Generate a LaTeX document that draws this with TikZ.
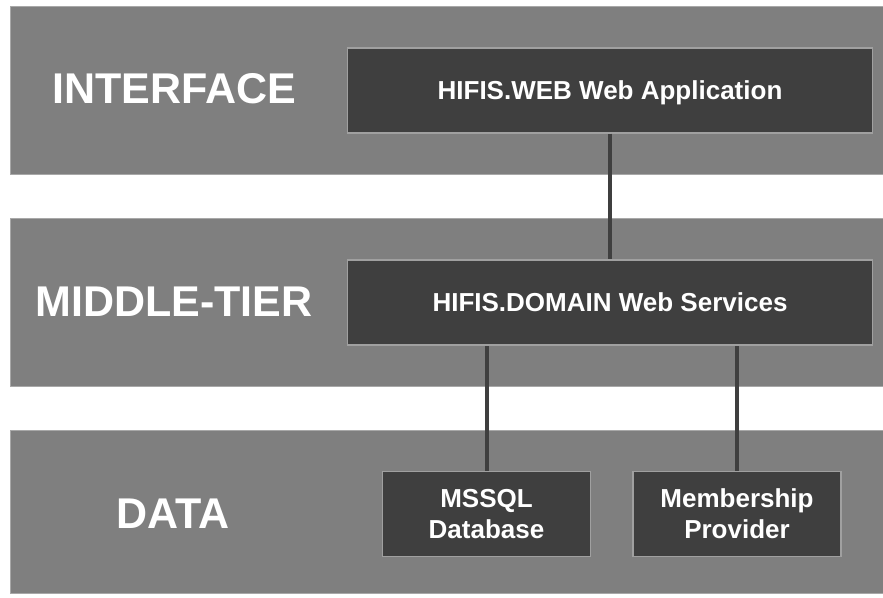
\documentclass[tikz,border=0pt]{standalone}
\usepackage{fontspec}
\setmainfont{Liberation Sans}
\definecolor{bandgray}{HTML}{7F7F7F}
\definecolor{bandedge}{HTML}{A8A8A8}
\definecolor{boxgray}{HTML}{3F3F3F}
\definecolor{boxedge}{HTML}{A0A0A0}
\begin{document}
\begin{tikzpicture}[x=1pt,y=-1pt,
  band/.style={fill=bandgray, draw=bandedge, line width=1pt},
  boxbase/.style={draw=boxedge, fill=boxgray, line width=1.2pt, text=white,
    font=\bfseries\fontsize{26}{31}\selectfont, inner sep=0pt, align=center},
  box/.style={boxbase, text height=18.6pt, text depth=0pt},
  tier/.style={text=white, font=\bfseries\fontsize{43}{50}\selectfont,
    inner sep=0pt, text height=30.8pt, text depth=0pt},
  link/.style={draw=boxgray, line width=4pt}]
\useasboundingbox (0,0) rectangle (883,597);
\fill[white] (0,0) rectangle (883,597);
% bands
\path[band] (10,6) rectangle (886,174);
\path[band] (10,218) rectangle (886,386);
\path[band] (10,430) rectangle (886,593);
% tier labels
\node[tier] (tinterface) at (174,88) {INTERFACE};
\node[tier] (tmiddle) at (174,301) {MIDDLE-TIER};
\node[tier] (tdata) at (173,513) {DATA};
% boxes
\node[box, minimum width=525pt, minimum height=85pt] (web) at (610,90.5) {HIFIS.WEB Web Application};
\node[box, minimum width=525pt, minimum height=85pt] (svc) at (610,302.5) {HIFIS.DOMAIN Web Services};
\node[boxbase, minimum width=208pt, minimum height=85pt] (db) at (486.5,514) {MSSQL\\Database};
\node[boxbase, minimum width=208pt, minimum height=85pt] (mem) at (737,514) {Membership\\Provider};
% connectors
\draw[link] (web.south) -- (svc.north);
\draw[link] (db.north) -- (db.north |- svc.south);
\draw[link] (mem.north) -- (mem.north |- svc.south);
\end{tikzpicture}
\end{document}
